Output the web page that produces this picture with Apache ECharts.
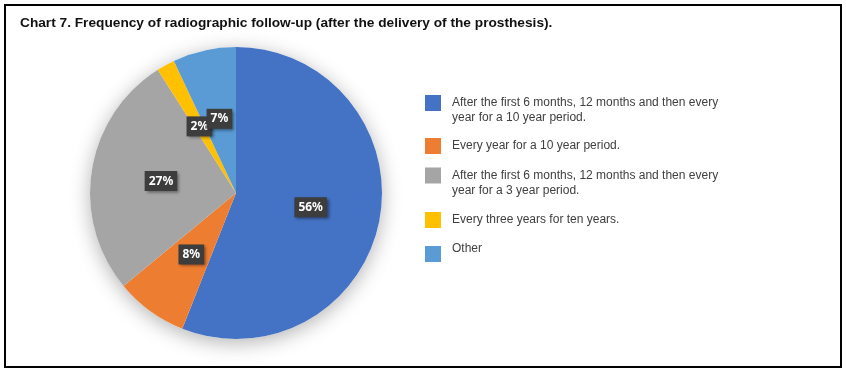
<!DOCTYPE html>
<html>
<head>
<meta charset="utf-8">
<script src="https://cdn.jsdelivr.net/npm/echarts@6/dist/echarts.min.js"></script>
<style>
  html, body { margin: 0; padding: 0; background: #fff; }
  #wrap { position: relative; width: 846px; height: 376px; }
  #chart { width: 846px; height: 376px; }
  #frame {
    position: absolute; left: 4px; top: 4px; width: 838px; height: 364px;
    box-sizing: border-box; border: 2px solid #000; pointer-events: none;
  }
</style>
</head>
<body>
<div id="wrap">
  <div id="chart"></div>
  <div id="frame"></div>
</div>
<script>
// Chart 7 — radiographic follow-up frequency (share of answers, %)
const categories = [
  'After the first 6 months, 12 months and then every year for a 10 year period.',
  'Every year for a 10 year period.',
  'After the first 6 months, 12 months and then every year for a 3 year period.',
  'Every three years for ten years.',
  'Other',
]
const shares = [56, 8, 27, 2, 7]
const colors = ['#4472C4', '#ED7D31', '#A5A5A5', '#FFC000', '#5B9BD5']

// one legend per entry so the square sits on the first text line (Excel style)
const legendTops = [80.5, 138, 153, 212, 243]
const legendPrefix = ['\n', '', '\n', '', '']
const legendSuffix = ['', '', '', '', '\n\u200b']
const legendLineH = [15, 15, 15, 15, 10]

const chart = echarts.init(document.getElementById('chart'))

chart.setOption({
  animation: false,
  color: colors,
  title: {
    text: 'Chart 7. Frequency of radiographic follow-up (after the delivery of the prosthesis).',
    left: 20,
    top: 16,
    padding: 0,
    textStyle: {
      fontFamily: 'Liberation Sans, Arial, sans-serif',
      fontSize: 13.7,
      fontWeight: 'bold',
      lineHeight: 14,
      color: '#111',
    },
  },
  legend: categories.map((name, i) => ({
    data: [name],
    left: 425,
    top: legendTops[i],
    padding: 0,
    icon: 'rect',
    itemWidth: 16,
    itemHeight: 16,
    selectedMode: false,
    formatter: (n) => legendPrefix[i] + n + legendSuffix[i],
    textStyle: {
      fontFamily: 'Liberation Sans, Arial, sans-serif',
      fontSize: 12,
      lineHeight: legendLineH[i],
      color: '#404040',
      width: 280,
      overflow: 'break',
      padding: [0, 0, 0, 6],
    },
  })),
  series: [
    {
      // soft drop shadow behind the whole pie
      type: 'pie',
      silent: true,
      center: [236, 193],
      radius: 146,
      label: { show: false },
      data: [{ value: 1, name: '' }],
      itemStyle: {
        color: '#fff',
        shadowBlur: 20,
        shadowColor: 'rgba(0,0,0,0.3)',
        shadowOffsetY: 4,
      },
    },
    {
      name: 'Follow-up',
      type: 'pie',
      center: [236, 193],
      radius: 146,
      startAngle: 90,
      clockwise: true,
      avoidLabelOverlap: false,
      labelLayout: { hideOverlap: false },
      data: categories.map((name, i) => ({ name, value: shares[i] })),
      label: {
        position: 'inside',
        formatter: '{c}%',
        fontFamily: 'Noto Sans, sans-serif',
        fontSize: 12,
        fontWeight: 'bold',
        lineHeight: 14,
        color: '#fff',
        backgroundColor: '#3d3d3d',
        padding: [3, 4],
        shadowColor: 'rgba(0,0,0,0.45)',
        shadowBlur: 3,
        shadowOffsetX: 2,
        shadowOffsetY: 2,
      },
      labelLine: { show: false },
      itemStyle: { borderWidth: 0 },
      emphasis: { disabled: true },
    },
  ],
})
</script>
</body>
</html>
